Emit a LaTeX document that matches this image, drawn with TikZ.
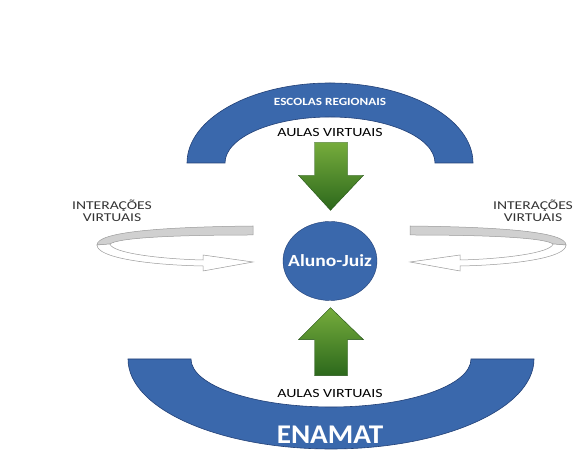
\documentclass[tikz,border=0pt]{standalone}
\usepackage{fontspec}
\setmainfont{Carlito}
\usetikzlibrary{calc,shapes.geometric}

\definecolor{ringblue}{RGB}{58,104,172}
\definecolor{ringedge}{RGB}{34,64,118}
\definecolor{leafgreen}{RGB}{118,172,60}
\definecolor{darkgreen}{RGB}{44,104,28}
\definecolor{bandgray}{RGB}{208,208,208}

\tikzset{
  ring/.style={fill=ringblue, draw=ringedge, line width=0.6pt},
  blockarrow/.style={top color=leafgreen, bottom color=darkgreen, draw=darkgreen!80!black, line width=0.4pt},
  backband/.style={fill=bandgray, draw=gray!80, line width=0.5pt},
  frontband/.style={fill=white, draw=gray!80, line width=0.5pt},
  aulas/.style={font=\fontsize{12.5}{14}\selectfont, text=black, xscale=1.27},
  interacoes/.style={font=\fontsize{12}{12.5}\selectfont, text=black!80, align=center, xscale=1.3},
  bandtext/.style={font=\bfseries\fontsize{11}{13}\selectfont, text=white, xscale=1.2},
  aluno/.style={ellipse, fill=ringblue, draw=ringedge, line width=0.4pt, minimum width=94pt, minimum height=79pt, inner sep=0pt}
}

% ribbon arrow (left one, mirrored for the right)
\newcommand{\ribbon}{%
  \draw[backband] (253,228) .. controls (160,227) and (97,222) .. (97,209)
     -- (110,210) .. controls (118,216) and (170,219) .. (253,219) -- cycle;
  \draw[frontband] (97,209) .. controls (97,196) and (150,189) .. (203,188)
     -- (203,183) -- (253,192) -- (203,199) -- (203,194)
     .. controls (160,195) and (112,201) .. (110,210) -- cycle;
}

\begin{document}
\begin{tikzpicture}[x=1pt,y=1pt]
  \useasboundingbox (0,0) rectangle (588,454);

  % Escolas regionais
  \draw[ring] (187,291) arc[start angle=180,end angle=0,x radius=143,y radius=80]
     -- (435,291) arc[start angle=0,end angle=180,x radius=105,y radius=46] -- cycle;
  \node[bandtext] (escolas) at (330,352) {ESCOLAS REGIONAIS};

  % ENAMAT
  \draw[ring] (128,95) arc[start angle=180,end angle=360,x radius=203,y radius=90]
     -- (471,95) arc[start angle=0,end angle=-180,x radius=140,y radius=48] -- cycle;
  \node[bandtext, font=\bfseries\fontsize{27}{30}\selectfont, xscale=0.9] (enamat) at (330,19) {ENAMAT};

  % aluno
  \node[aluno] (aluno) at (330,193) {};
  \node[text=white, font=\bfseries\fontsize{17}{19}\selectfont, xscale=1.15] (alunotext) at (aluno) {Aluno-Juiz};

  \node[aulas] (aulastop) at (330,322) {AULAS VIRTUAIS};
  \node[aulas] (aulasbot) at (330,61) {AULAS VIRTUAIS};

  % green arrows
  \begin{scope}[shift={($(aluno.north)+(0.5,11)$)}]
    \draw[blockarrow] (0,0) -- (-32,35) -- (-16,35) -- (-16,68) -- (17,68) -- (17,35) -- (33,35) -- cycle;
  \end{scope}
  \begin{scope}[shift={($(aluno.south)+(0.5,-7)$)}]
    \draw[blockarrow] (0,0) -- (-32,-32) -- (-16,-32) -- (-16,-68) -- (17,-68) -- (17,-32) -- (33,-32) -- cycle;
  \end{scope}

  % interacoes
  \ribbon
  \begin{scope}[xshift=663pt, xscale=-1]
    \ribbon
  \end{scope}
  \node[interacoes] (intleft) at (112,243) {INTERAÇÕES\\VIRTUAIS};
  \node[interacoes] (intright) at (533,243) {INTERAÇÕES\\VIRTUAIS};
\end{tikzpicture}
\end{document}
